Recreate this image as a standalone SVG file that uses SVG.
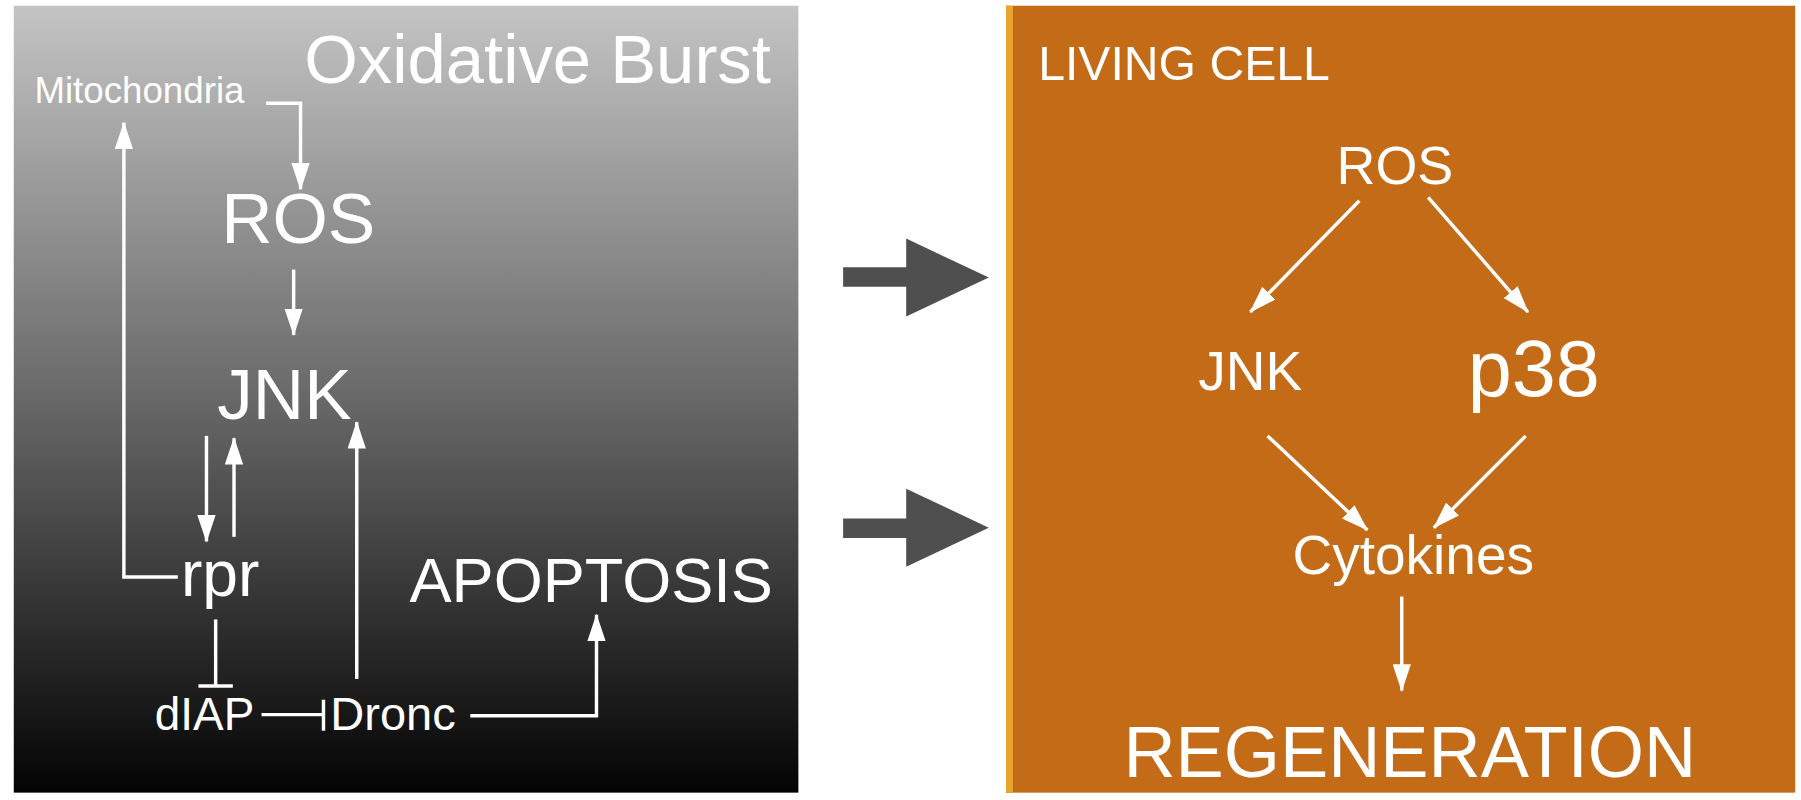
<svg xmlns="http://www.w3.org/2000/svg" width="1801" height="800" viewBox="0 0 1801 800">
<style>
text{font-family:"Liberation Sans",Arial,sans-serif;fill:#fff}
.c line,.c polyline{stroke:#fff;stroke-width:3;fill:none}
</style>
<defs>
<linearGradient id="g" x1="0" y1="0" x2="0" y2="1"><stop offset="0" stop-color="#c4c4c4"/><stop offset="0.5" stop-color="#686868"/><stop offset="1" stop-color="#030303"/></linearGradient>
<marker id="a" viewBox="0 0 24 16" refX="23" refY="8" markerWidth="24" markerHeight="16" markerUnits="userSpaceOnUse" orient="auto"><path d="M0,0L24,8L0,16z" fill="#fff"/></marker>
</defs>
<rect width="1801" height="800" fill="#fff"/>
<g transform="scale(1.1471)">
<g id="panel-left"><rect x="12" y="5" width="684" height="686" fill="url(#g)"/></g>
<g id="panel-right"><rect x="877" y="5" width="688" height="686" fill="#c46b17"/><rect x="877" y="5" width="6" height="686" fill="#e8a52e"/></g>
<g id="t-ox"><text x="672" y="72" font-size="60" text-anchor="end">Oxidative Burst</text></g>
<g id="n-mito"><text x="30" y="90" font-size="32">Mitochondria</text></g>
<g id="n-ros1"><text x="260" y="212" font-size="62" text-anchor="middle">ROS</text></g>
<g id="n-jnk1"><text x="248" y="365" font-size="62" text-anchor="middle">JNK</text></g>
<g id="n-rpr"><text x="192" y="520" font-size="56" text-anchor="middle">rpr</text></g>
<g id="n-apop"><text x="357" y="525" font-size="55">APOPTOSIS</text></g>
<g id="n-diap"><text x="135" y="636" font-size="40">dIAP</text></g>
<g id="n-dronc"><text x="288" y="636" font-size="41">Dronc</text></g>
<g id="t-living"><text x="905" y="70" font-size="42">LIVING CELL</text></g>
<g id="n-ros2"><text x="1216" y="160" font-size="47" text-anchor="middle">ROS</text></g>
<g id="n-jnk2"><text x="1090" y="340" font-size="48" text-anchor="middle">JNK</text></g>
<g id="n-p38"><text x="1337" y="345" font-size="69" text-anchor="middle">p38</text></g>
<g id="n-cyto"><text x="1232" y="500" font-size="48" text-anchor="middle">Cytokines</text></g>
<g id="n-regen"><text x="1229" y="677" font-size="63" text-anchor="middle">REGENERATION</text></g>
<g id="connectors" class="c">
<path d="M735,233H790V208L862,242L790,276V250H735z" fill="#4f4f4f" stroke="none"/>
<path d="M735,452H790V426L862,460L790,494V469H735z" fill="#4f4f4f" stroke="none"/>
<polyline points="232,90 262,90 262,165" marker-end="url(#a)"/>
<polyline points="155,503 108,503 108,107" marker-end="url(#a)"/>
<line x1="256" y1="235" x2="256" y2="292" marker-end="url(#a)"/>
<line x1="180" y1="380" x2="180" y2="472" marker-end="url(#a)"/>
<line x1="204" y1="468" x2="204" y2="382" marker-end="url(#a)"/>
<line x1="311" y1="592" x2="311" y2="368" marker-end="url(#a)"/>
<line x1="188" y1="540" x2="188" y2="598"/><line x1="173" y1="598" x2="203" y2="598"/>
<line x1="228" y1="623" x2="282" y2="623"/><line x1="282" y1="610" x2="282" y2="637"/>
<polyline points="410,624 520,624 520,536" marker-end="url(#a)"/>
<line x1="1185" y1="175" x2="1090" y2="272" marker-end="url(#a)"/>
<line x1="1245" y1="172" x2="1332" y2="272" marker-end="url(#a)"/>
<line x1="1105" y1="380" x2="1192" y2="462" marker-end="url(#a)"/>
<line x1="1330" y1="380" x2="1250" y2="460" marker-end="url(#a)"/>
<line x1="1222" y1="520" x2="1222" y2="602" marker-end="url(#a)"/>
</g>
</g>
</svg>
